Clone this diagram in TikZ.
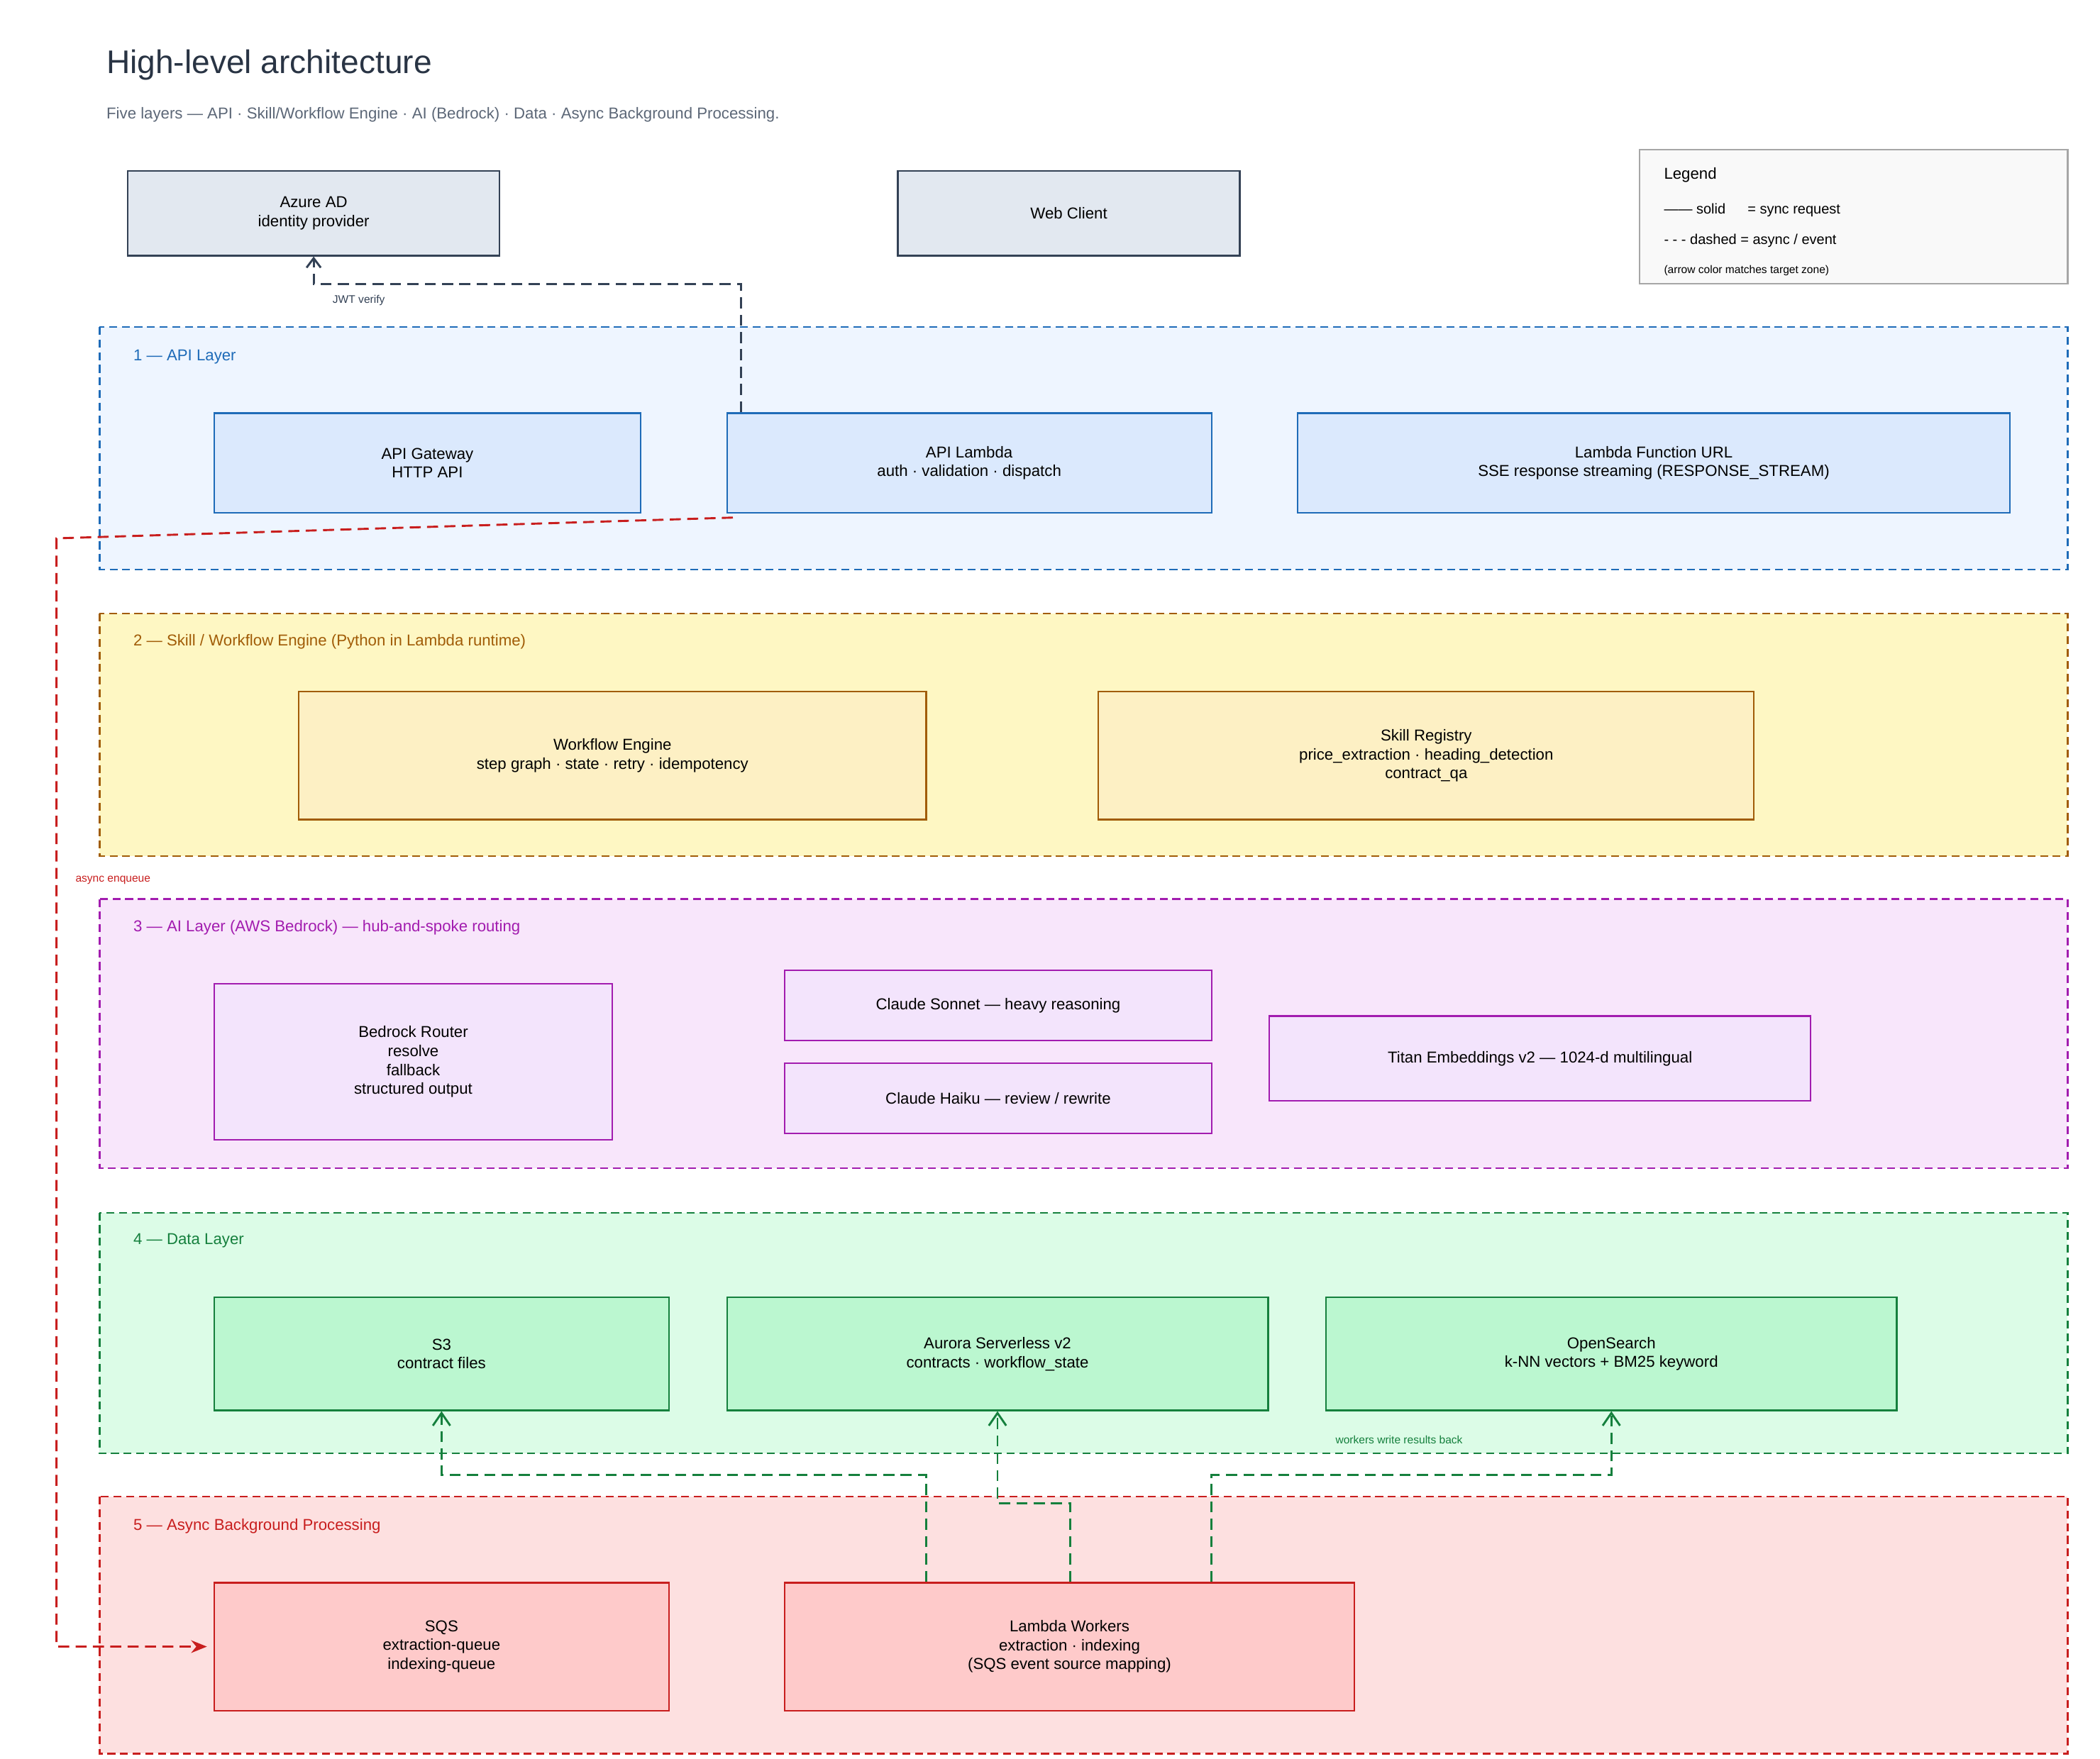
\documentclass[tikz,border=0pt]{standalone}
\usepackage{fontspec}
\setmainfont{Liberation Sans}
\usetikzlibrary{arrows.meta}
\definecolor{slate}{HTML}{334155}
\definecolor{slateB}{HTML}{334155}\definecolor{slateF}{HTML}{E2E8F0}
\definecolor{apiB}{HTML}{1E6BB8}\definecolor{apiZ}{HTML}{EEF5FF}\definecolor{apiF}{HTML}{DBE9FD}
\definecolor{wfB}{HTML}{A15C07}\definecolor{wfZ}{HTML}{FEF7C3}\definecolor{wfF}{HTML}{FDF0C4}
\definecolor{aiB}{HTML}{A21CAF}\definecolor{aiZ}{HTML}{F8E6FB}\definecolor{aiF}{HTML}{F3E4FC}
\definecolor{dtB}{HTML}{15803D}\definecolor{dtZ}{HTML}{DCFCE7}\definecolor{dtF}{HTML}{BBF7D0}
\definecolor{asB}{HTML}{C81E1E}\definecolor{asZ}{HTML}{FDE0E0}\definecolor{asF}{HTML}{FECACA}
\tikzset{
  zone/.style={draw=#1B,fill=#1Z,dashed,line width=1pt,dash pattern=on 5pt off 3pt},
  box/.style={draw=#1B,fill=#1F,line width=1pt,inner sep=0pt,align=center,font=\normalsize},
  zlabel/.style={anchor=west,text=#1B,font=\normalsize},
  flow/.style={draw=#1,dashed,line width=1.3pt,dash pattern=on 7pt off 4pt}
}
\newcommand\zbox[7]{\node[#6,minimum width={(#4-#2)*0.03cm},minimum height={(#5-#3)*0.03cm}] (#1) at ({(#2+#4)/2},{(#3+#5)/2}) {#7};}
\begin{document}
\begin{tikzpicture}[x=0.03cm,y=-0.03cm]
\useasboundingbox (0,0) rectangle (1560,1307);
% title
\node[anchor=west,font=\huge,text=slate!80!black] (title) at (75,48) {High-level architecture};
\node[anchor=west,text=slate!80,font=\normalsize] (sub) at (75,85) {Five layers --- API · Skill/Workflow Engine · AI (Bedrock) · Data · Async Background Processing.};
% top row
\zbox{azure}{95}{127}{371}{190}{box=slate}{Azure AD\\identity provider}
\zbox{web}{667}{127}{921}{190}{box=slate}{Web Client}
\draw[gray!70,fill=gray!5,line width=1pt] (1218,111) rectangle (1536,211);
\node[anchor=west,font=\normalsize] (lgt) at (1232,130) {Legend};
\node[anchor=west,font=\small] (lg1) at (1232,156) {—— solid\quad\ \ = sync request};
\node[anchor=west,font=\small] (lg2) at (1232,179) {- - - dashed = async / event};
\node[anchor=west,font=\scriptsize] (lg3) at (1232,201) {(arrow color matches target zone)};
% zones
\draw[zone=api] (74,243) rectangle (1536,423);
\node[zlabel=api] (z1) at (95,265) {1 — API Layer};
\draw[zone=wf] (74,456) rectangle (1536,636);
\node[zlabel=wf] (z2) at (95,477) {2 — Skill / Workflow Engine (Python in Lambda runtime)};
\draw[zone=ai] (74,668) rectangle (1536,868);
\node[zlabel=ai] (z3) at (95,689) {3 — AI Layer (AWS Bedrock) — hub-and-spoke routing};
\draw[zone=dt] (74,901) rectangle (1536,1080);
\node[zlabel=dt] (z4) at (95,922) {4 — Data Layer};
\draw[zone=as] (74,1112) rectangle (1536,1303);
\node[zlabel=as] (z5) at (95,1134) {5 — Async Background Processing};
% API layer
\zbox{agw}{159}{307}{476}{381}{box=api}{API Gateway\\HTTP API}
\zbox{alam}{540}{307}{900}{381}{box=api}{API Lambda\\auth · validation · dispatch}
\zbox{furl}{964}{307}{1493}{381}{box=api}{Lambda Function URL\\SSE response streaming (RESPONSE\_STREAM)}
% workflow
\zbox{wfe}{222}{514}{688}{609}{box=wf}{Workflow Engine\\step graph · state · retry · idempotency}
\zbox{reg}{816}{514}{1303}{609}{box=wf}{Skill Registry\\price\_extraction · heading\_detection\\contract\_qa}
% AI
\zbox{router}{159}{731}{455}{847}{box=ai}{Bedrock Router\\resolve\\fallback\\structured output}
\zbox{sonnet}{583}{721}{900}{773}{box=ai}{Claude Sonnet — heavy reasoning}
\zbox{haiku}{583}{790}{900}{842}{box=ai}{Claude Haiku — review / rewrite}
\zbox{titan}{943}{755}{1345}{818}{box=ai}{Titan Embeddings v2 — 1024-d multilingual}
% data
\zbox{s3}{159}{964}{497}{1048}{box=dt}{S3\\contract files}
\zbox{aur}{540}{964}{942}{1048}{box=dt}{Aurora Serverless v2\\contracts · workflow\_state}
\zbox{os}{985}{964}{1409}{1048}{box=dt}{OpenSearch\\k-NN vectors + BM25 keyword}
% async
\zbox{sqs}{159}{1176}{497}{1271}{box=as}{SQS\\extraction-queue\\indexing-queue}
\zbox{work}{583}{1176}{1006}{1271}{box=as}{Lambda Workers\\extraction · indexing\\(SQS event source mapping)}
% connectors
\draw[flow=slate,-{Straight Barb[length=6pt,width=9pt]}] (alam.north west) ++(11,0) |- (azure.south |- 0,211) -- (azure.south);
\node[anchor=west,font=\scriptsize,text=slate] (jwt) at (243,223) {JWT verify};
\draw[flow=asB,-{Stealth[length=10pt,width=8pt]},shorten >=4pt] (alam.south west) ++(5,3) -- (42,400) |- (sqs.west);
\node[anchor=west,font=\scriptsize,text=asB] (enq) at (52,654) {async enqueue};
\draw[flow=dtB,-{Straight Barb[length=8pt,width=11pt]}] (work.north -| 688,0) -- (688,1096) -| (s3.south);
\draw[flow=dtB,-{Straight Barb[length=8pt,width=11pt]}] (work.north -| 795,0) -- (795,1117) -| (aur.south);
\draw[flow=dtB,-{Straight Barb[length=8pt,width=11pt]}] (work.north -| 900,0) -- (900,1096) -| (os.south);
\node[anchor=west,font=\scriptsize,text=dtB] (wb) at (988,1070) {workers write results back};
\end{tikzpicture}
\end{document}
